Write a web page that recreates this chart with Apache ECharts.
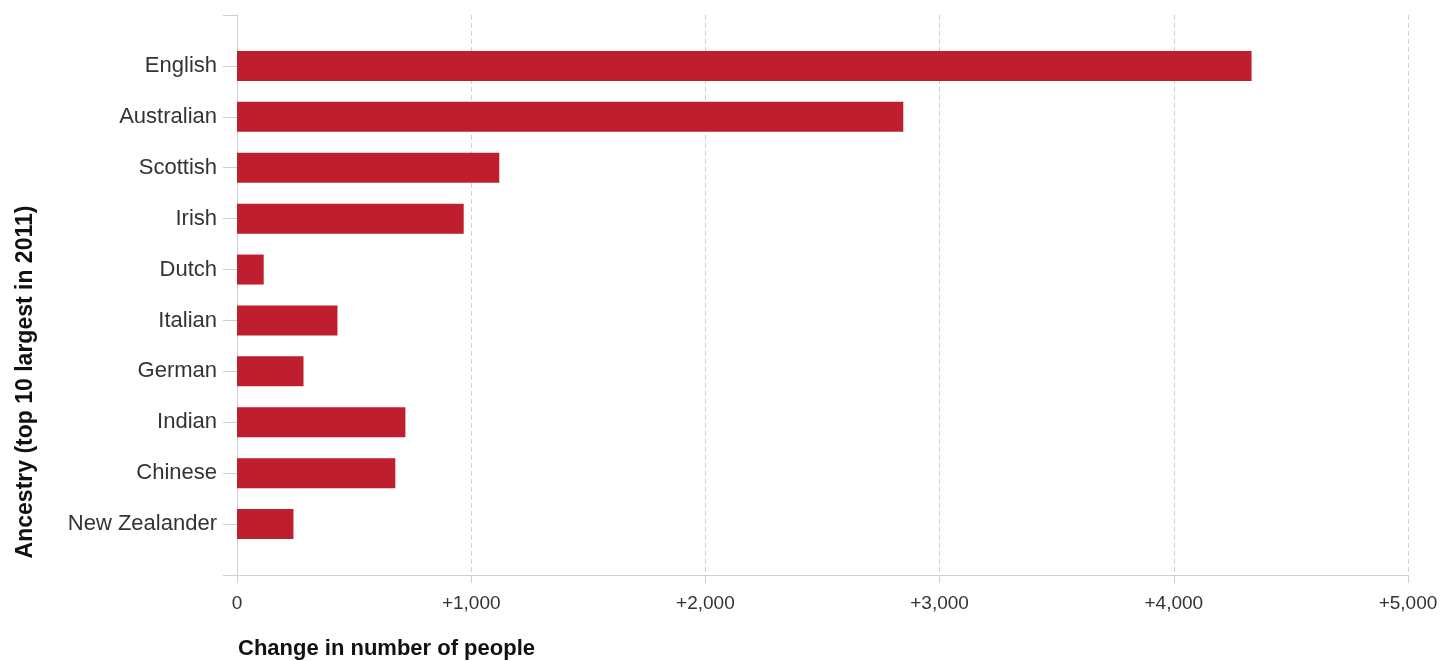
<!DOCTYPE html>
<html>
<head>
<meta charset="utf-8">
<script src="https://cdn.jsdelivr.net/npm/echarts@6/dist/echarts.min.js"></script>
<style>
html,body{margin:0;padding:0;background:#fff;}
#chart{width:1442px;height:661px;}
</style>
</head>
<body>
<div id="chart"></div>
<script>
var categories = ['English','Australian','Scottish','Irish','Dutch','Italian','German','Indian','Chinese','New Zealander'];
var changeValues = [4332, 2845, 1120, 968, 114, 429, 284, 719, 676, 241];
var xTicks = [0, 1000, 2000, 3000, 4000, 5000];
var xAxisTitle = 'Change in number of people';
var yAxisTitle = 'Ancestry (top 10 largest in 2011)';

var FONT = 'Arial, "Liberation Sans", sans-serif';
var axisCats = [''].concat(categories).concat(['']);
var axisData = [null].concat(changeValues).concat([null]);

var chart = echarts.init(document.getElementById('chart'));
chart.setOption({
  animation: false,
  backgroundColor: '#ffffff',
  grid: { left: 237, right: 34, top: 15, bottom: 86, containLabel: false },
  xAxis: {
    type: 'value',
    min: xTicks[0],
    max: xTicks[xTicks.length - 1],
    interval: xTicks[1] - xTicks[0],
    axisLine: { show: true, lineStyle: { color: '#cfcfcf', width: 1 } },
    axisTick: { show: true, length: 8, lineStyle: { color: '#cfcfcf' } },
    splitLine: { show: true, lineStyle: { color: '#cfcfcf', type: [5, 3], width: 1 } },
    axisLabel: {
      margin: 19,
      color: '#333',
      fontFamily: FONT,
      fontSize: 19,
      formatter: function (v) { return v === 0 ? '0' : '+' + v.toLocaleString('en-US'); }
    }
  },
  yAxis: {
    type: 'category',
    data: axisCats,
    inverse: true,
    boundaryGap: false,
    axisLine: { show: true, lineStyle: { color: '#cfcfcf', width: 1 } },
    axisTick: { show: true, length: 14, lineStyle: { color: '#cfcfcf' } },
    splitLine: { show: false },
    axisLabel: { margin: 20, color: '#333', fontFamily: FONT, fontSize: 22, interval: 0, padding: [2, 0, 0, 0] }
  },
  series: [{
    type: 'bar',
    data: axisData,
    barWidth: 30,
    itemStyle: { color: '#be1e2d' }
  }],
  graphic: [
    {
      type: 'text',
      left: 238,
      top: 638,
      style: { text: xAxisTitle, font: 'bold 22px ' + FONT, fill: '#111' }
    },
    {
      type: 'text',
      x: 26,
      y: 382,
      rotation: Math.PI / 2,
      style: { text: yAxisTitle, font: 'bold 23px ' + FONT, fill: '#111', textAlign: 'center', align: 'center', textVerticalAlign: 'middle', verticalAlign: 'middle' }
    }
  ]
});
</script>
</body>
</html>
